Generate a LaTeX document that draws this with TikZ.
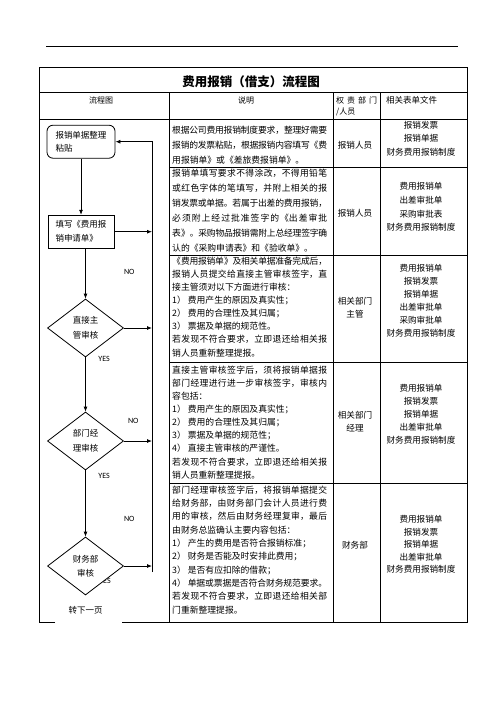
\documentclass[tikz,border=0pt]{standalone}
\usepackage{fontspec}
\setmainfont{Noto Sans CJK SC}
\newfontfamily\lblfont{Carlito}
\usetikzlibrary{shapes.geometric,arrows.meta}
\XeTeXlinebreaklocale "zh"
\XeTeXlinebreakskip=0pt plus 1.5pt minus 0.6pt
\tolerance=9999
\parindent=0pt

\begin{document}
\begin{tikzpicture}[x=1pt,y=1pt,yscale=-1,xscale=1,
    grid/.style={line width=0.8pt},
    arr/.style={line width=0.8pt,-{Latex[length=5pt,width=4pt]}},
    desc/.style={anchor=base west,inner sep=0pt,text width=155pt,align=justify},
    cell/.style={inner sep=0pt,align=center,font=\fontsize{8.6}{13.3}\selectfont},
    startbox/.style={draw,rounded corners=6pt,line width=0.8pt,minimum width=68pt,minimum height=33pt,text width=51pt,align=left,font=\fontsize{8.5}{13.4}\selectfont},
    procbox/.style={draw,line width=0.8pt,minimum width=66pt,minimum height=33pt,text width=51pt,align=left,font=\fontsize{8.5}{14}\selectfont},
    decide/.style={diamond,draw,fill=white,line width=0.8pt,minimum width=76pt,minimum height=58pt,inner sep=0pt,align=center,font=\fontsize{8.5}{14.5}\selectfont},
    yesno/.style={inner sep=0pt,font=\lblfont\fontsize{8}{9}\selectfont}]
        \useasboundingbox (0,0) rectangle (496,702);
        \draw[line width=0.7pt] (46,46) -- (458,46);

        % table
        \draw[grid] (55,622) -- (39,622) -- (39,67) -- (467,67) -- (467,622) -- (122,622);
        \draw[grid] (39,92.3) -- (467,92.3);
        \draw[grid] (39,119) -- (467,119);
        \draw[grid] (169,92.3) -- (169,622);
        \draw[grid] (333,92.3) -- (333,622);
        \draw[grid] (380,92.3) -- (380,622);
        \draw[grid] (169,167) -- (467,167);
        \draw[grid] (169,255) -- (467,255);
        \draw[grid] (169,362) -- (467,362);
        \draw[grid] (169,483) -- (467,483);

        \draw (251,81.7) node (title) [inner sep=0pt,font=\bfseries\fontsize{12.5}{14}\selectfont] {费用报销（借支）流程图};
        \draw (101,100) node (hflow) [cell,font=\fontsize{8}{12}\selectfont] {流程图};
        \draw (246,100) node (hdesc) [cell,font=\fontsize{8}{12}\selectfont] {说明};
        \draw (336,103) node (hdept) [anchor=base west,inner sep=0pt,text width=42pt,align=left,font=\fontsize{8}{11.7}\selectfont] {\makebox[41pt][s]{权\hfill 责\hfill 部\hfill 门}\\/人员};
        \draw (386,100) node (hforms) [anchor=west,inner sep=0pt,font=\fontsize{8.5}{12}\selectfont] {相关表单文件};

        % description column
        \draw (172,133.3) node (desc1) [desc,font=\fontsize{8.8}{15}\selectfont] {根据公司费用报销制度要求，整理好需要\linebreak
报销的发票粘贴，根据报销内容填写《费\linebreak
用报销单》或《差旅费报销单》。};
        \draw (172,176.6) node (desc2) [desc,font=\fontsize{8.8}{14.9}\selectfont] {报销单填写要求不得涂改，不得用铅笔\linebreak
或红色字体的笔填写，并附上相关的报\linebreak
销发票或单据。若属于出差的费用报销，\linebreak
必须附上经过批准签字的《出差审批\linebreak
表》。采购物品报销需附上总经理签字确\linebreak
认的《采购申请表》和《验收单》。};
        \draw (172,264.3) node (desc3) [desc,font=\fontsize{8.8}{13.1}\selectfont] {《费用报销单》及相关单据准备完成后，\linebreak
报销人员提交给直接主管审核签字，直\linebreak
接主管须对以下方面进行审核：\\
1） 费用产生的原因及真实性；\\
2） 费用的合理性及其归属；\\
3） 票据及单据的规范性。\\
若发现不符合要求，立即退还给相关报\linebreak
销人员重新整理提报。};
        \draw (172,373.3) node (desc4) [desc,font=\fontsize{8.8}{13.1}\selectfont] {直接主管审核签字后，须将报销单据报\linebreak
部门经理进行进一步审核签字，审核内\linebreak
容包括：\\
1） 费用产生的原因及真实性；\\
2） 费用的合理性及其归属；\\
3） 票据及单据的规范性；\\
4） 直接主管审核的严谨性。\\
若发现不符合要求，立即退还给相关报\linebreak
销人员重新整理提报。};
        \draw (172,493.3) node (desc5) [desc,font=\fontsize{8.8}{13.3}\selectfont] {部门经理审核签字后，将报销单据提交\linebreak
给财务部，由财务部门会计人员进行费\linebreak
用的审核，然后由财务经理复审，最后\linebreak
由财务总监确认主要内容包括：\\
1） 产生的费用是否符合报销标准；\\
2） 财务是否能及时安排此费用；\\
3） 是否有应扣除的借款；\\
4） 单据或票据是否符合财务规范要求。\\
若发现不符合要求，立即退还给相关部\linebreak
门重新整理提报。};

        % department column
        \draw (355,145) node (dept1) [cell] {报销人员};
        \draw (355,213) node (dept2) [cell] {报销人员};
        \draw (355,308) node (dept3) [cell] {相关部门\\主管};
        \draw (355,421.7) node (dept4) [cell] {相关部门\\经理};
        \draw (355,545) node (dept5) [cell] {财务部};

        % forms column
        \draw (421,138.7) node (form1) [cell,font=\fontsize{8.6}{13.5}\selectfont] {报销发票\\报销单据\\财务费用报销制度};
        \draw (421,207) node (form2) [cell,font=\fontsize{8.6}{13.6}\selectfont] {费用报销单\\出差审批单\\采购审批表\\财务费用报销制度};
        \draw (421,300.8) node (form3) [cell,font=\fontsize{8.6}{13}\selectfont] {费用报销单\\报销发票\\报销单据\\出差审批单\\采购审批单\\财务费用报销制度};
        \draw (421,414.2) node (form4) [cell,font=\fontsize{8.6}{12.9}\selectfont] {费用报销单\\报销发票\\报销单据\\出差审批单\\财务费用报销制度};
        \draw (421,544.5) node (form5) [cell,font=\fontsize{8.6}{12.4}\selectfont] {费用报销单\\报销发票\\报销单据\\出差审批单\\财务费用报销制度};

        % flow column
        \draw (81,141.7) node (tidy) [startbox] {报销单据整理\\粘贴};
        \draw (81,231.7) node (fill) [procbox] {填写《费用报\\销申请单》};
        \draw (105,581) node (yes3) [yesno] {YES};
        \draw (85.5,328) node (boss) [decide] {直接主\\管审核};
        \draw (85.5,441) node (mgr) [decide] {部门经\\理审核};
        \draw (85.5,566) node (fin) [decide] {财务部\\审核};
        \draw (129.3,272.3) node (no1) [yesno] {NO};
        \draw (133.3,421) node (no2) [yesno] {NO};
        \draw (129.3,519) node (no3) [yesno] {NO};
        \draw (104.2,359) node (yes1) [yesno] {YES};
        \draw (104.2,475.7) node (yes2) [yesno] {YES};
        \draw (85.5,610) node (next) [cell,font=\fontsize{8.5}{10}\selectfont] {转下一页};
        \coordinate (back) at (152,572);

        \draw[arr] (tidy) -- (fill);
        \draw[arr] (fill.south -| boss.north) -- (boss);
        \draw[arr] (boss) -- (mgr);
        \draw[arr] (mgr) -- (fin);
        \draw[arr] (fill.east) -- (fill.east -| back);
        \draw[arr] (boss.east) -- (boss.east -| back);
        \draw[arr] (mgr.east) -- (mgr.east -| back);
        \draw[arr] (fin.east) -- (fin.east -| back);
        \draw[arr] (back) |- (tidy.east);
    \end{tikzpicture}
\end{document}
